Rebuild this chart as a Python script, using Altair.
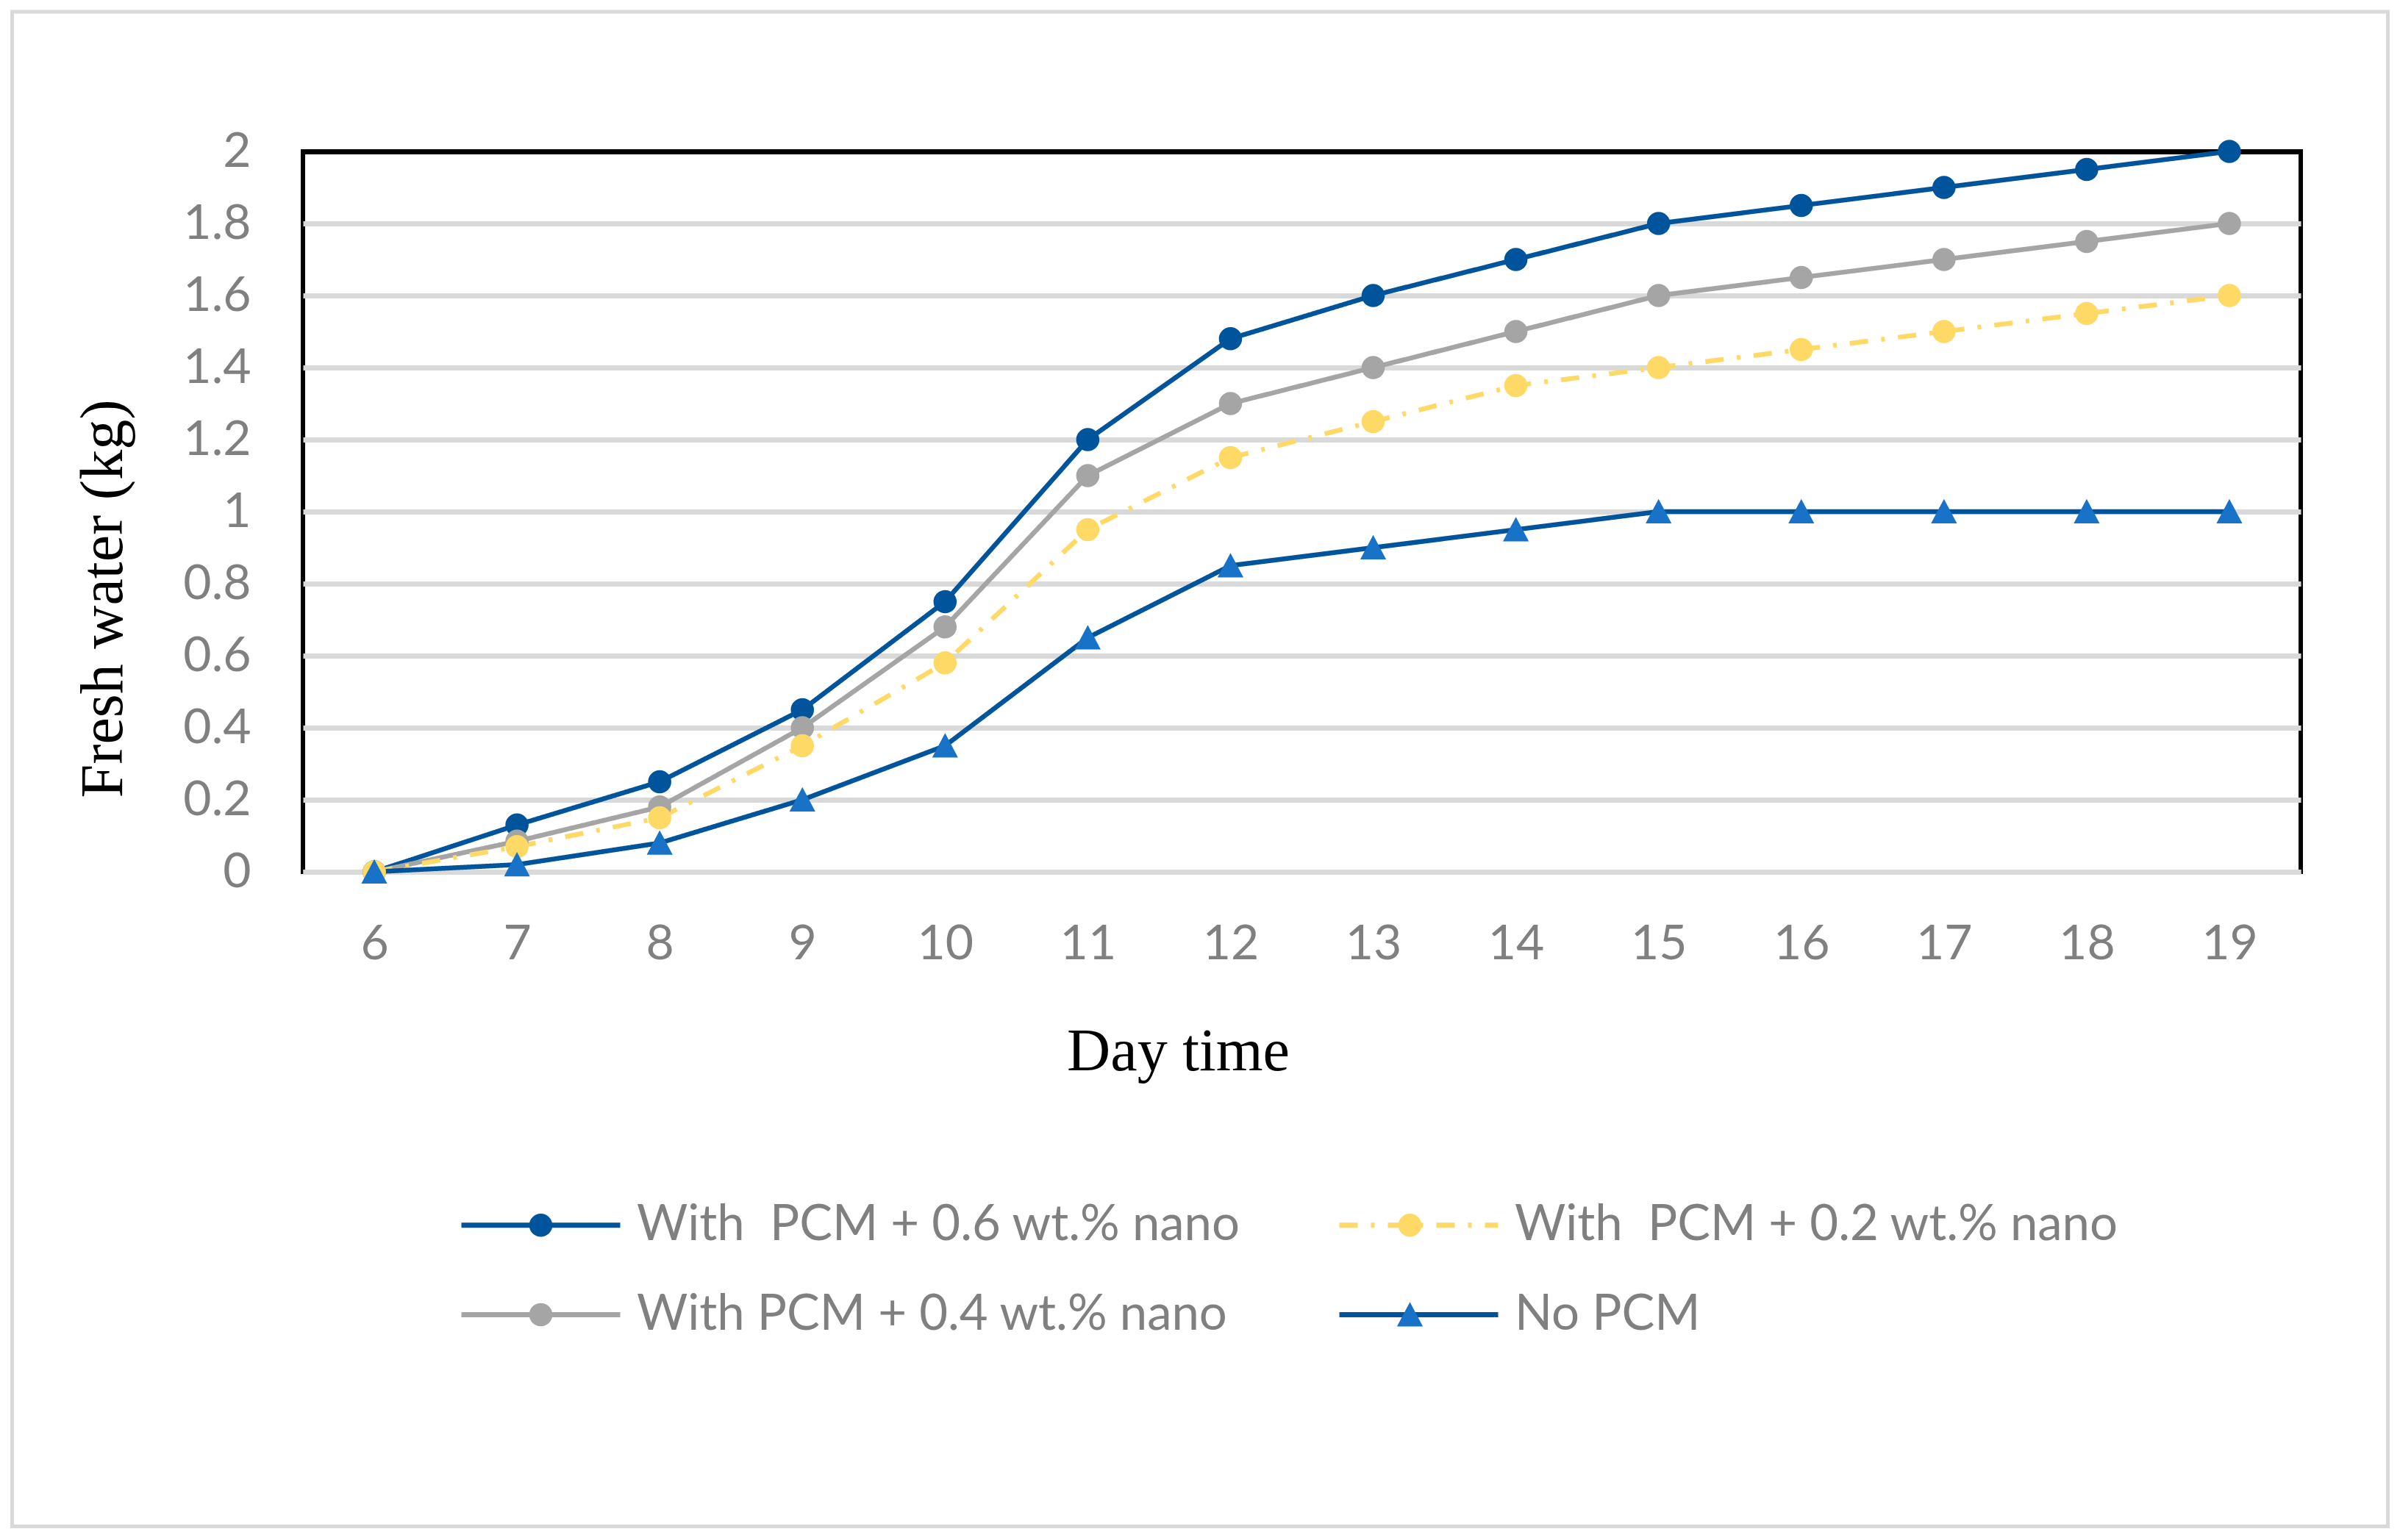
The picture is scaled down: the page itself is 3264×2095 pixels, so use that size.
import altair as alt
import pandas as pd

# ---------------- data ----------------
DAYS = [6, 7, 8, 9, 10, 11, 12, 13, 14, 15, 16, 17, 18, 19]
NANO_06 = [0, 0.13, 0.25, 0.45, 0.75, 1.2, 1.48, 1.6, 1.7, 1.8, 1.85, 1.9, 1.95, 2.0]
NANO_04 = [0, 0.085, 0.18, 0.4, 0.68, 1.1, 1.3, 1.4, 1.5, 1.6, 1.65, 1.7, 1.75, 1.8]
NANO_02 = [0, 0.07, 0.15, 0.35, 0.58, 0.95, 1.15, 1.25, 1.35, 1.4, 1.45, 1.5, 1.55, 1.6]
NO_PCM = [0, 0.02, 0.08, 0.2, 0.35, 0.65, 0.85, 0.9, 0.95, 1.0, 1.0, 1.0, 1.0, 1.0]

SERIES = [
    "With\u00a0 PCM + 0.6 wt.% nano",
    "With PCM + 0.4 wt.% nano",
    "With\u00a0 PCM + 0.2 wt.% nano",
    "No PCM",
]
VALUES = [NANO_06, NANO_04, NANO_02, NO_PCM]
Y_TICKS = [0, 0.2, 0.4, 0.6, 0.8, 1, 1.2, 1.4, 1.6, 1.8, 2]

LINE_COLORS = ["#00549C", "#A5A5A5", "#FFD966", "#00549C"]
MARKER_COLORS = ["#00549C", "#A5A5A5", "#FFD966", "#1872C8"]
DASHES = [[1, 0], [1, 0], [25, 18, 5, 18], [1, 0]]

rows = []
for i, (name, vals) in enumerate(zip(SERIES, VALUES)):
    for d, v in zip(DAYS, vals):
        rows.append({"day": d, "value": v, "series": name, "marker": name, "order": i})
df = pd.DataFrame(rows)

# custom symbol paths (unit = sqrt(size)/2 px); degenerate end points keep
# the marker legend's bounds equal to the line legend's
CIRCLE = "M-5.4,0L-5.4,0M5.4,0L5.4,0M0.79,0A0.79,0.79,0,1,1,-0.79,0A0.79,0.79,0,1,1,0.79,0Z"
TRIANGLE = "M-5.4,0L-5.4,0M5.4,0L5.4,0M0,-0.86L0.88,0.8L-0.88,0.8Z"
SHAPES = [CIRCLE, CIRCLE, CIRCLE, TRIANGLE]
LEG_LINE = "M-5.4,0L5.4,0"

W, H = 2717, 980
LEG_X, LEG_Y = 215, 1427
COLPAD = 119
COLPAD_MARK = 943

common_leg = dict(
    orient="none", legendX=LEG_X, legendY=LEG_Y, direction="vertical",
    columns=2, rowPadding=54, symbolSize=1600,
    symbolOffset=75, labelOffset=97, labelFont="Lato", labelFontSize=67,
    labelColor="#808080", labelLimit=3000, padding=0, title=None,
)

x_enc = alt.X(
    "day:Q",
    scale=alt.Scale(domain=[5.5, 19.5], nice=False, zero=False),
    axis=alt.Axis(
        values=DAYS, format="d", title="Day time", grid=False, ticks=False,
        tickSize=0, domainColor="#D9D9D9", domainWidth=7, labelFont="Lato",
        labelFontSize=66, labelColor="#808080", labelPadding=66,
        labelFlush=False, labelOverlap=False, titleFont="Liberation Serif",
        titleFontSize=82, titleColor="black", titleFontWeight="normal",
        titlePadding=73, titleX=1190, titleAlign="center",
    ),
)
y_enc = alt.Y(
    "value:Q",
    scale=alt.Scale(domain=[0, 2], nice=False),
    axis=alt.Axis(
        values=Y_TICKS, format="~g", title="Fresh water (kg)", grid=True,
        gridColor={"condition": {"test": "datum.value === 2", "value": "black"}, "value": "#D9D9D9"},
        gridWidth=7, domain=False, ticks=False, tickSize=0, labelFont="Lato",
        labelFontSize=66, labelColor="#808080", labelPadding=71,
        titleFont="Liberation Serif", titleFontSize=82, titleColor="black",
        titleFontWeight="normal", titlePadding=66, titleY=608,
    ),
)

lines = alt.Chart(df).mark_line(strokeWidth=6.5).encode(
    x=x_enc,
    y=y_enc,
    color=alt.Color(
        "series:N",
        scale=alt.Scale(domain=SERIES, range=LINE_COLORS),
        legend=alt.Legend(symbolType=LEG_LINE, symbolStrokeWidth=7,
                          columnPadding=COLPAD, **common_leg),
    ),
    strokeDash=alt.StrokeDash(
        "series:N", scale=alt.Scale(domain=SERIES, range=DASHES)
    ),
)

marker_legend = alt.Legend(
    labelExpr="''", symbolStrokeColor="transparent", symbolStrokeWidth=0,
    columnPadding=COLPAD_MARK, **common_leg,
)
msort = alt.EncodingSortField(field="order", op="min")
points = alt.Chart(df).mark_point(filled=True, size=1600, strokeWidth=0, opacity=1).encode(
    x="day:Q",
    y="value:Q",
    fill=alt.Fill("marker:N", sort=msort,
                  scale=alt.Scale(range=MARKER_COLORS), legend=marker_legend),
    shape=alt.Shape("marker:N", sort=msort,
                    scale=alt.Scale(range=SHAPES), legend=marker_legend),
)

border = alt.Chart(pd.DataFrame({"k": [0]})).mark_rect(
    fill="transparent", stroke="#D9D9D9", strokeWidth=5
).encode(
    x=alt.value(-395.5), x2=alt.value(2835.5),
    y=alt.value(-190), y2=alt.value(1870.5),
)

chart = (
    alt.layer(border, lines, points)
    .properties(width=W, height=H, padding={"left": 6, "top": 5, "right": 5, "bottom": 5},
                background="white")
    .configure_view(stroke="black", strokeWidth=6)
)

chart.save("out.html", embed_options={"renderer": "svg", "actions": False})
